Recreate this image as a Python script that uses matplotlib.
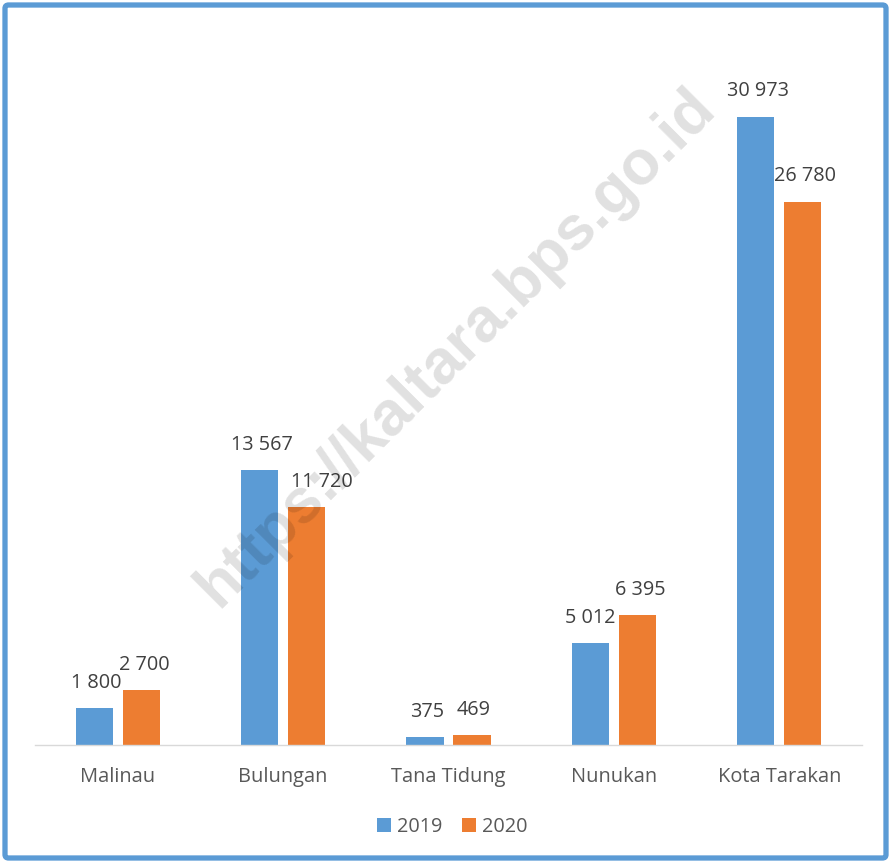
import matplotlib
matplotlib.use("Agg")
import matplotlib.pyplot as plt
from matplotlib.patches import FancyBboxPatch
import numpy as np

categories = ["Malinau", "Bulungan", "Tana Tidung", "Nunukan", "Kota Tarakan"]
series_names = ["2019", "2020"]
values_2019 = [1800, 13567, 375, 5012, 30973]
values_2020 = [2700, 11720, 469, 6395, 26780]
label_2019 = ["1 800", "13 567", "375", "5 012", "30 973"]
label_2020 = ["2 700", "11 720", "469", "6 395", "26 780"]

BLUE = "#5B9BD5"
ORANGE = "#ED7D31"
FONT = "Open Sans"

W, H = 891, 863
fig = plt.figure(figsize=(W / 100, H / 100), dpi=100)
fig.patch.set_facecolor("white")

ax_left, ax_right, ax_bottom, ax_top = 35, 862, 745, 35
ax = fig.add_axes([ax_left / W, 1 - ax_bottom / H, (ax_right - ax_left) / W, (ax_bottom - ax_top) / H])

x = np.arange(len(categories))
bw = 0.224
off = 0.142
b1 = ax.bar(x - off, values_2019, bw, color=BLUE, label=series_names[0], zorder=2)
b2 = ax.bar(x + off, values_2020, bw, color=ORANGE, label=series_names[1], zorder=2)

ax.set_xlim(-0.5, len(categories) - 0.5)
ax.set_ylim(0, 35000)

for spine in ["top", "right", "left"]:
    ax.spines[spine].set_visible(False)
ax.spines["bottom"].set_color("#D9D9D9")
ax.spines["bottom"].set_linewidth(1.0)
ax.set_yticks([])
ax.set_xticks(x)
ax.set_xticklabels(categories, fontfamily=FONT, fontsize=14.4, color="#595959")
ax.tick_params(axis="x", length=0, pad=16)

label_dx = [[2, 2, 2, 0, 2], [3, 15, 2, 3, 2]]
for si, (vals, labs, xs) in enumerate([(values_2019, label_2019, x - off), (values_2020, label_2020, x + off)]):
    for i, (v, lab) in enumerate(zip(vals, labs)):
        ax.annotate(lab, (xs[i], v), xytext=(label_dx[si][i] * 0.72, 11), textcoords="offset points",
                    ha="center", va="bottom", fontfamily=FONT, fontsize=14.3, color="#404040")

leg = fig.legend(handles=[b1, b2], labels=series_names, loc="center", bbox_to_anchor=(452 / W, 1 - 827 / H),
                 ncol=2, frameon=False, prop={"family": FONT, "size": 14.3}, handlelength=0.7, handleheight=0.7,
                 handletextpad=0.3, columnspacing=1.0)
for t in leg.get_texts():
    t.set_color("#595959")

# watermark
fig.text(456 / W, 1 - 348 / H, "https://kaltara.bps.go.id", rotation=45, ha="center", va="center",
         rotation_mode="anchor", fontfamily="Liberation Sans", fontweight="bold", fontsize=45,
         color="black", alpha=0.12, zorder=10)

# border
border = FancyBboxPatch((5 / W, 5 / H), (W - 10) / W, (H - 10) / H, boxstyle="round,pad=0,rounding_size=0.004",
                        transform=fig.transFigure, fill=False, edgecolor=BLUE, linewidth=3.8, zorder=20)
fig.patches.append(border)

fig.savefig("out.png", dpi=100)
